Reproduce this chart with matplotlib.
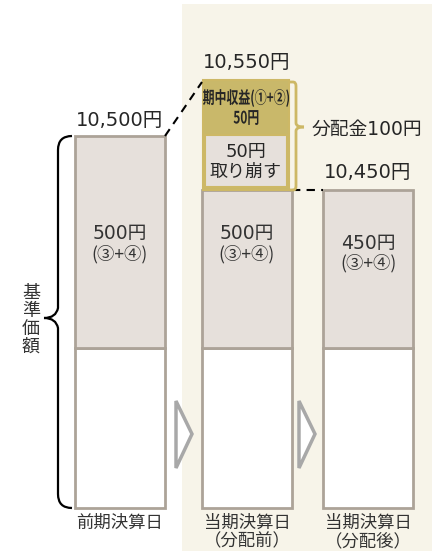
import matplotlib
matplotlib.use('Agg')
import matplotlib.pyplot as plt
from matplotlib.patches import Rectangle, Polygon, PathPatch
from matplotlib.path import Path
from matplotlib.textpath import TextPath
from matplotlib.font_manager import FontProperties
from matplotlib.transforms import Affine2D

plt.rcParams['font.family'] = ['Noto Sans CJK JP', 'DejaVu Sans']
num_font = ['DejaVu Sans', 'Noto Sans CJK JP']

# data
day_labels = ['前期決算日', '当期決算日\n（分配前）', '当期決算日\n（分配後）']
nav_labels = ['10,500円', '10,550円', '10,450円']
reserve_labels = ['500円', '500円', '450円']
income_lines = ['期中収益(①+②)', '50円']
drawdown_label = '50円\n取り崩す'
dist_label = '分配金100円'

# schematic layout (pixel units of the diagram)
bar_x = [119.5, 247, 368]
bar_w = 90
base_top = 348
base_h = 160
reserve_top = [136, 190, 190]
income_top = 80
drawdown_top = 135

edge = '#aca398'
fill = '#e6e0db'
gold = '#c9b86a'
gold_edge = '#cdb866'
txt = '#262626'

fig = plt.figure(figsize=(4.32, 5.51), dpi=100)
ax = fig.add_axes([0, 0, 1, 1])
ax.set_xlim(0, 432)
ax.set_ylim(551, 0)
ax.axis('off')

# cream panel
ax.add_patch(Rectangle((182, 4), 250, 547, facecolor='#f7f4e9', edgecolor='none', zorder=0))

# white base parts
ax.bar(bar_x, [base_h] * 3, bottom=base_top, width=bar_w, color='white',
       edgecolor=edge, linewidth=2, zorder=2)
# reserve parts
ax.bar(bar_x, [base_top - t for t in reserve_top], bottom=reserve_top, width=bar_w,
       color=fill, edgecolor=edge, linewidth=2, zorder=2)
# gold income box
ax.bar([bar_x[1] - 1], [reserve_top[1] - income_top], bottom=[income_top], width=bar_w - 4,
       color=gold, edgecolor=gold_edge, linewidth=1.5, zorder=3)
ax.bar([bar_x[1] - 1], [reserve_top[1] - 3 - drawdown_top], bottom=[drawdown_top], width=bar_w - 8,
       color=fill, edgecolor=gold_edge, linewidth=1.5, zorder=4)


def squeezed_text(s, cx, cy, size, sx):
    # condensed bold text drawn as a path
    tp = TextPath((0, 0), s, size=size,
                  prop=FontProperties(family='Noto Sans CJK JP', weight='bold'))
    ext = tp.get_extents()
    w = ext.x1 - ext.x0
    h = ext.y1 - ext.y0
    tr = Affine2D().translate(-ext.x0 - w / 2, -ext.y0 - h / 2).scale(sx, -1).translate(cx, cy)
    ax.add_patch(PathPatch(tr.transform_path(tp), facecolor=txt, edgecolor='none', zorder=6))


squeezed_text(income_lines[0], bar_x[1] - 1, 98, 17, 0.7)
squeezed_text(income_lines[1], bar_x[1] - 1, 117.5, 17, 0.7)

# texts
nav_y = [121, 62, 173]
for x, t, y in zip(bar_x, nav_labels, nav_y):
    ax.text(x, y, t, ha='center', va='center', fontsize=14, family=num_font, color=txt, zorder=5)
for x, t, y in zip(bar_x, reserve_labels, [234, 234, 243]):
    ax.text(x, y, t, ha='center', va='center', fontsize=13.5, family=num_font,
            color='#333333', zorder=5)
    ax.text(x, y + 20, '(③+④)', ha='center', va='center', fontsize=12.5,
            color='#333333', zorder=5)
ax.text(bar_x[1] - 1, 152, '50円', ha='center', va='center', fontsize=13, family=num_font,
        color=txt, zorder=5)
ax.text(bar_x[1] - 1, 172, '取り崩す', ha='center', va='center', fontsize=13, color=txt, zorder=5)
ax.text(367, 129, dist_label, ha='center', va='center', fontsize=13.5, family=num_font,
        color=txt, zorder=5)

for x, t in zip(bar_x, day_labels):
    ax.text(x, 514, t, ha='center', va='top', fontsize=12.5, color='#333333',
            linespacing=1.0, zorder=5)

ax.text(31, 320, '基\n準\n価\n額', ha='center', va='center', fontsize=13,
        linespacing=1.0, color='#333333')

# dashed connectors
ax.plot([165, 202], [136, 82], color='black', linestyle=(0, (4, 3)), linewidth=1.5, zorder=5)
ax.plot([292, 323], [190, 190], color='black', linestyle=(0, (4, 3)), linewidth=1.5, zorder=5)

# gold bracket, rounded corners
codes_b = [Path.MOVETO, Path.LINETO, Path.CURVE3, Path.CURVE3, Path.LINETO, Path.CURVE3, Path.CURVE3]
b_top = [(290, 82), (293, 82), (296, 82), (296, 86), (296, 123), (296, 127), (304, 127)]
b_bot = [(290, 190), (293, 190), (296, 190), (296, 186), (296, 131), (296, 127), (304, 127)]
for pts in [b_top, b_bot]:
    ax.add_patch(PathPatch(Path(pts, codes_b), facecolor='none', edgecolor=gold_edge,
                           linewidth=2, zorder=5))

# left brace
codes = [Path.MOVETO, Path.CURVE3, Path.CURVE3, Path.LINETO, Path.LINETO, Path.CURVE3, Path.CURVE3]
top = [(72, 136), (58, 136), (58, 150), (58, 160), (58, 308), (56, 318), (44, 318)]
ax.add_patch(PathPatch(Path(top, codes), facecolor='none', edgecolor='black', linewidth=1.6))
bot = [(72, 508), (58, 508), (58, 494), (58, 484), (58, 328), (56, 318), (44, 318)]
ax.add_patch(PathPatch(Path(bot, codes), facecolor='none', edgecolor='black', linewidth=1.6))

# hollow arrows
for ax0 in [176, 299]:
    ax.add_patch(Polygon([(ax0, 401), (ax0 + 16, 434), (ax0, 468)], closed=True,
                         facecolor='white', edgecolor='#a8a8a8', linewidth=2.5, zorder=3))

fig.savefig('out.png', dpi=100)
